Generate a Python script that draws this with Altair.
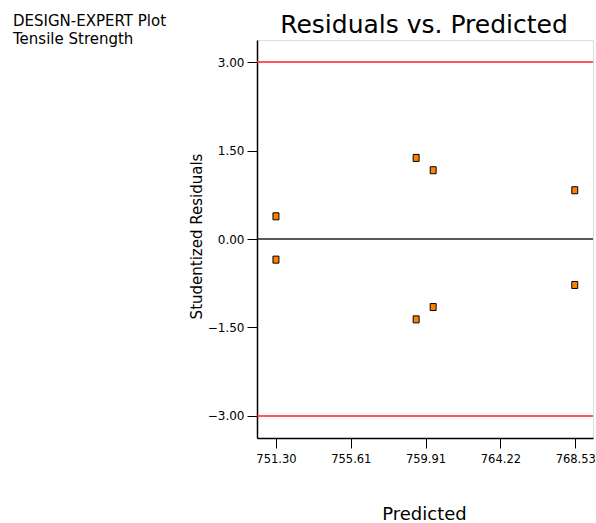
import altair as alt
import pandas as pd

# Data
predicted = [751.30, 751.30, 759.37, 759.37, 760.35, 760.35, 768.50, 768.50]
residuals = [0.385, -0.35, 1.375, -1.363, 1.166, -1.154, 0.827, -0.78]
x_ticks = [751.30, 755.61, 759.91, 764.22, 768.53]
y_ticks = [-3.0, -1.5, 0.0, 1.5, 3.0]
limit_lines = [3.0, -3.0]
zero_line = [0.0]
header_lines = ["DESIGN-EXPERT Plot", "Tensile Strength"]
title_text = "Residuals vs. Predicted"

FONT = "DejaVu Sans"

pts = pd.DataFrame({"Predicted": predicted, "Residual": residuals})
lim = pd.DataFrame({"Residual": limit_lines})
zero = pd.DataFrame({"Residual": zero_line})

xscale = alt.Scale(domain=[750.21, 769.55], nice=False, zero=False)
yscale = alt.Scale(domain=[-3.375, 3.375], nice=False, zero=False)

xaxis = alt.Axis(
    values=x_ticks, format=".2f", title="Predicted", grid=False,
    tickSize=10, tickColor="black", domainColor="black", domainWidth=1.5,
    labelFont=FONT, labelFontSize=11.5, labelColor="black", labelPadding=5,
    titleFont=FONT, titleFontSize=18, titleFontWeight="normal", titleColor="black",
    titleX=167, titleY=81, titleBaseline="alphabetic", titleAnchor="middle",
)
yaxis = alt.Axis(
    values=y_ticks, format=".2f", title="Studentized Residuals", grid=False,
    tickSize=10, tickColor="black", domainColor="black", domainWidth=1.5,
    labelFont=FONT, labelFontSize=12, labelColor="black", labelPadding=3,
    titleFont=FONT, titleFontSize=15, titleFontWeight="normal", titleColor="black",
    titleAngle=-90, titleX=-61, titleY=196, titleAlign="center", titleBaseline="middle",
)

points = alt.Chart(pts).mark_point(
    shape="M-0.85,-1L0.85,-1L0.85,1L-0.85,1Z", filled=True, fill="#FF8000",
    stroke="black", strokeWidth=1, size=49, opacity=1,
).encode(
    x=alt.X("Predicted:Q", scale=xscale, axis=xaxis),
    y=alt.Y("Residual:Q", scale=yscale, axis=yaxis),
)

red = alt.Chart(lim).mark_rule(color="#FF2020", strokeWidth=1.5).encode(
    y=alt.Y("Residual:Q", scale=yscale, axis=yaxis)
)
black = alt.Chart(zero).mark_rule(color="#222222", strokeWidth=1.5).encode(
    y=alt.Y("Residual:Q", scale=yscale, axis=yaxis)
)

hdr1 = alt.Chart(pd.DataFrame({"t": [header_lines[0]]})).mark_text(
    font=FONT, fontSize=15, align="left", baseline="alphabetic", color="black"
).encode(text="t:N", x=alt.value(-244), y=alt.value(-14))
hdr2 = alt.Chart(pd.DataFrame({"t": [header_lines[1]]})).mark_text(
    font=FONT, fontSize=15, align="left", baseline="alphabetic", color="black"
).encode(text="t:N", x=alt.value(-244), y=alt.value(4))
ttl = alt.Chart(pd.DataFrame({"t": [title_text]})).mark_text(
    font=FONT, fontSize=25, align="center", baseline="alphabetic", color="black"
).encode(text="t:N", x=alt.value(167), y=alt.value(-7))

chart = alt.layer(red, black, points, hdr1, hdr2, ttl).properties(
    width=336, height=398,
    autosize=alt.AutoSizeParams(type="none"),
    padding={"left": 257, "top": 40, "right": 3, "bottom": 85},
).configure_view(stroke="#555555", strokeWidth=1.5).configure(background="white")

chart.save("out.html", embed_options={"renderer": "svg", "actions": False})
